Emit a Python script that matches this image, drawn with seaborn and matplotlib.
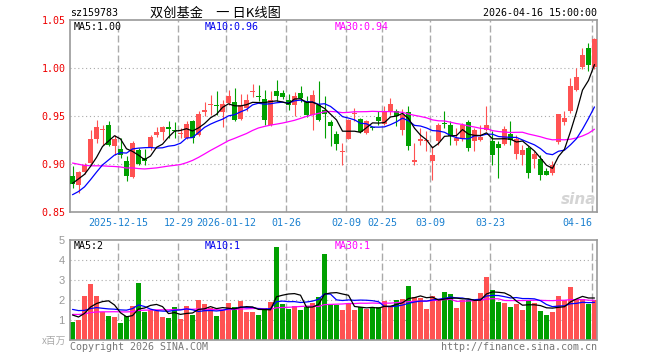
import numpy as np
import pandas as pd
import matplotlib
matplotlib.use("Agg")
import matplotlib.pyplot as plt
import seaborn as sns

# daily candles (88 trading days)
opens = [0.8879, 0.8785, 0.8913, 0.9010, 0.9264, 0.9350, 0.9410, 0.9191, 0.9160, 0.9028,
         0.8868, 0.9149, 0.9060, 0.9167, 0.9305, 0.9333, 0.9389, 0.9358, 0.9315, 0.9270,
         0.9451, 0.9299, 0.9538, 0.9618, 0.9611, 0.9542, 0.9635, 0.9646, 0.9472, 0.9583,
         0.9745, 0.9708, 0.9680, 0.9410, 0.9757, 0.9740, 0.9670, 0.9611, 0.9743, 0.9660,
         0.9507, 0.9618, 0.9566, 0.9434, 0.9316, 0.9122, 0.9264, 0.9518, 0.9472, 0.9323,
         0.9385, 0.9486, 0.9420, 0.9549, 0.9556, 0.9358, 0.9538, 0.9021, 0.9236, 0.9236,
         0.9028, 0.9236, 0.9424, 0.9403, 0.9236, 0.9264, 0.9434, 0.9236, 0.9253, 0.9358,
         0.9236, 0.9212, 0.9212, 0.9313, 0.9104, 0.9090, 0.9167, 0.9056, 0.9056, 0.8924,
         0.8906, 0.9229, 0.9438, 0.9549, 0.9767, 1.0007, 1.0208, 1.0007]
highs = [0.8976, 0.8924, 0.9010, 0.9358, 0.9458, 0.9410, 0.9451, 0.9306, 0.9270, 0.9080,
         0.9243, 0.9167, 0.9160, 0.9306, 0.9385, 0.9400, 0.9444, 0.9437, 0.9375, 0.9444,
         0.9462, 0.9549, 0.9646, 0.9722, 0.9757, 0.9670, 0.9774, 0.9792, 0.9729, 0.9729,
         0.9837, 0.9826, 0.9774, 0.9757, 0.9878, 0.9770, 0.9729, 0.9750, 0.9809, 0.9705,
         0.9774, 0.9861, 0.9705, 0.9460, 0.9340, 0.9219, 0.9472, 0.9583, 0.9480, 0.9460,
         0.9400, 0.9556, 0.9600, 0.9687, 0.9570, 0.9576, 0.9600, 0.9219, 0.9375, 0.9340,
         0.9184, 0.9427, 0.9556, 0.9451, 0.9375, 0.9427, 0.9462, 0.9375, 0.9410, 0.9600,
         0.9340, 0.9236, 0.9400, 0.9444, 0.9306, 0.9194, 0.9184, 0.9132, 0.9097, 0.8958,
         0.9028, 0.9524, 0.9549, 0.9896, 1.0000, 1.0208, 1.0260, 1.0313]
lows = [0.8750, 0.8698, 0.8896, 0.9005, 0.9222, 0.9200, 0.9184, 0.9097, 0.9060, 0.8820,
        0.8854, 0.8993, 0.8990, 0.9150, 0.9278, 0.9250, 0.9270, 0.9270, 0.9270, 0.9264,
        0.9219, 0.9290, 0.9497, 0.9514, 0.9514, 0.9382, 0.9610, 0.9444, 0.9462, 0.9550,
        0.9694, 0.9653, 0.9410, 0.9400, 0.9653, 0.9680, 0.9560, 0.9497, 0.9650, 0.9490,
        0.9358, 0.9444, 0.9270, 0.9184, 0.9150, 0.8993, 0.9257, 0.9444, 0.9323, 0.9310,
        0.9350, 0.9410, 0.9410, 0.9510, 0.9392, 0.9306, 0.9150, 0.8993, 0.9200, 0.9132,
        0.8830, 0.9200, 0.9375, 0.9194, 0.9200, 0.9243, 0.9132, 0.9132, 0.9240, 0.9340,
        0.8993, 0.8854, 0.9200, 0.9200, 0.9056, 0.8993, 0.8854, 0.8958, 0.8830, 0.8882,
        0.8882, 0.9208, 0.9410, 0.9530, 0.9757, 0.9993, 0.9965, 0.9993]
closes = [0.8792, 0.8913, 0.8986, 0.9264, 0.9389, 0.9360, 0.9194, 0.9264, 0.9097, 0.8878,
          0.9222, 0.9000, 0.9030, 0.9285, 0.9330, 0.9389, 0.9365, 0.9340, 0.9325, 0.9420,
          0.9270, 0.9524, 0.9566, 0.9625, 0.9604, 0.9628, 0.9712, 0.9462, 0.9618, 0.9670,
          0.9750, 0.9700, 0.9462, 0.9670, 0.9705, 0.9694, 0.9611, 0.9705, 0.9687, 0.9507,
          0.9715, 0.9462, 0.9521, 0.9392, 0.9208, 0.9125, 0.9462, 0.9521, 0.9333, 0.9451,
          0.9375, 0.9451, 0.9549, 0.9625, 0.9497, 0.9514, 0.9184, 0.9045, 0.9264, 0.9253,
          0.9097, 0.9410, 0.9417, 0.9288, 0.9270, 0.9410, 0.9167, 0.9358, 0.9278, 0.9410,
          0.9097, 0.9167, 0.9365, 0.9253, 0.9264, 0.9149, 0.8906, 0.9104, 0.8889, 0.8889,
          0.8986, 0.9524, 0.9479, 0.9809, 0.9903, 1.0132, 1.0028, 1.0306]
# volume, millions
volumes = [0.92, 1.00, 2.20, 2.80, 2.20, 1.40, 1.20, 1.15, 0.85, 1.20,
           1.70, 2.85, 1.40, 1.50, 1.45, 1.15, 1.10, 1.65, 1.05, 1.70,
           1.25, 2.00, 1.80, 1.60, 1.20, 1.50, 1.85, 1.65, 1.95, 1.40,
           1.40, 1.25, 1.60, 1.90, 4.65, 1.80, 1.55, 1.70, 1.50, 1.65,
           1.85, 2.15, 4.30, 1.80, 1.75, 1.50, 1.83, 1.50, 1.63, 1.57,
           1.63, 1.63, 1.95, 1.67, 2.00, 2.05, 2.70, 2.17, 2.10, 1.55,
           2.20, 1.98, 2.40, 2.30, 1.60, 2.00, 2.00, 2.00, 2.37, 3.15,
           2.50, 1.90, 1.85, 1.65, 1.80, 1.50, 2.00, 1.85, 1.45, 1.25,
           1.42, 2.20, 2.00, 2.65, 2.00, 2.05, 1.80, 2.00]

# days before the window, only needed to start the moving averages
prev_closes = [0.930, 0.934, 0.938, 0.940, 0.936, 0.933, 0.934,
               0.925, 0.920, 0.918, 0.922, 0.915, 0.912, 0.916, 0.910, 0.908, 0.912, 0.907,
               0.885, 0.855, 0.858, 0.850, 0.852, 0.860, 0.861,
               0.868, 0.875, 0.885, 0.892]
prev_volumes = [1.1, 1.2, 1.0, 1.3, 1.1, 1.2, 1.0, 1.1, 1.3, 1.2,
                1.1, 1.0, 1.2, 1.3, 1.1, 1.2, 1.0, 1.2, 1.1, 1.4,
                1.6, 2.1, 1.9, 1.7, 1.75,
                1.5, 1.3, 1.2, 1.33]

tick_days = [8, 18, 26, 36, 46, 52, 60, 70, 87]
tick_labels = ["2025-12-15", "12-29", "2026-01-12", "01-26", "02-09",
               "02-25", "03-09", "03-23", "04-16"]

sns.set_style("white")
plt.rcParams['font.family'] = ['DejaVu Sans Mono', 'Noto Sans CJK SC']

RED = '#ff5252'
GREEN = '#00a000'
GRID = '#aaaaaa'

n = len(closes)
df = pd.DataFrame({'day': np.arange(n), 'open': opens, 'high': highs,
                   'low': lows, 'close': closes, 'vol': volumes})
k = len(prev_closes)
all_close = pd.Series(prev_closes + closes)
all_vol = pd.Series(prev_volumes + volumes)
for w in (5, 10, 30):
    df[f'ma{w}'] = all_close.rolling(w).mean().iloc[k:].to_numpy()
    df[f'vma{w}'] = all_vol.rolling(w).mean().iloc[k:].to_numpy()
df['color'] = np.where(df['close'] >= df['open'], RED, GREEN)

W, H = 660, 360
fig = plt.figure(figsize=(W / 100, H / 100), dpi=100)


def box(l, t, r, b):
    return [l / W, 1 - b / H, (r - l) / W, (b - t) / H]


ax = fig.add_axes(box(70, 20, 597, 212))
axv = fig.add_axes(box(70, 240, 597, 340))

# grids first so the marks sit on top
for a, levels in ((ax, [0.90, 0.95, 1.00]), (axv, [1, 2, 3, 4])):
    for lv in levels:
        a.axhline(lv, color=GRID, lw=0.8, ls=(0, (1, 2.5)), zorder=0)
    for d in tick_days:
        a.axvline(d - 0.35, color=GRID, lw=1.0, ls=(0, (5, 2.2)), zorder=0)

# candles
body_lo = df[['open', 'close']].min(axis=1)
body_h = (df['close'] - df['open']).abs().clip(lower=0.0012)
ax.vlines(df['day'], df['low'], df['high'], colors=df['color'], lw=0.8, zorder=2)
ax.bar(df['day'], body_h, bottom=body_lo, width=0.83, color=df['color'], lw=0, zorder=3)

sns.lineplot(data=df, x='day', y='ma30', color='#ff00ff', lw=0.9, ax=ax, zorder=4)
sns.lineplot(data=df, x='day', y='ma10', color='#0000ff', lw=0.9, ax=ax, zorder=4)
sns.lineplot(data=df, x='day', y='ma5', color='black', lw=0.9, ax=ax, zorder=4)

# volume
axv.bar(df['day'], df['vol'], width=0.83, color=df['color'], lw=0, zorder=2)
sns.lineplot(data=df, x='day', y='vma30', color='#ff00ff', lw=0.9, ax=axv, zorder=4)
sns.lineplot(data=df, x='day', y='vma10', color='#0000ff', lw=0.9, ax=axv, zorder=4)
sns.lineplot(data=df, x='day', y='vma5', color='black', lw=0.9, ax=axv, zorder=4)

for a in (ax, axv):
    a.set_xlim(-0.42, n - 0.58)
    a.set_xlabel('')
    a.set_ylabel('')
    for s in a.spines.values():
        s.set_color('#999999')
        s.set_linewidth(1.2)
    a.tick_params(length=0)

ax.set_ylim(0.85, 1.05)
ax.set_yticks([0.85, 0.90, 0.95, 1.00, 1.05])
ax.set_yticklabels([f'{v:.2f}' for v in [0.85, 0.90, 0.95, 1.00, 1.05]],
                   color='#ee0000', fontsize=7.2)
ax.set_xticks([d - 0.35 for d in tick_days])
ax.set_xticklabels(tick_labels, color='#1a80d0', fontsize=7.2)
ax.get_xticklabels()[-1].set_horizontalalignment('right')
ax.tick_params(axis='y', pad=3)
ax.tick_params(axis='x', pad=4)

axv.set_ylim(0, 5)
axv.set_yticks([1, 2, 3, 4, 5])
axv.set_yticklabels(['1', '2', '3', '4', '5'], color='#999999', fontsize=8,
                    family='Liberation Sans')
axv.tick_params(axis='y', pad=4)
axv.set_xticks([])


def ftext(x, y, s, **kw):
    fig.text(x / W, 1 - y / H, s, va='center', **kw)


last = df.iloc[-1]
ftext(70, 13, 'sz159783', fontsize=7.2, color='black')
ftext(150, 13, '双创基金\u3000一 日K线图', fontsize=9.5, ha='left', color='black',
      family=['Noto Sans CJK SC', 'DejaVu Sans'])
ftext(597, 13, '2026-04-16 15:00:00', fontsize=7.2, ha='right', color='black')
ftext(74, 27, f"MA5:{last['ma5']:.2f}", fontsize=7.2, color='black')
ftext(205, 27, f"MA10:{last['ma10']:.2f}", fontsize=7.2, color='#0000ee')
ftext(335, 27, f"MA30:{last['ma30']:.2f}", fontsize=7.2, color='#ff00ff')
ftext(74, 246, f"MA5:{int(last['vma5'])}", fontsize=7.2, color='black')
ftext(205, 246, f"MA10:{int(last['vma10'])}", fontsize=7.2, color='#0000ee')
ftext(335, 246, f"MA30:{int(last['vma30'])}", fontsize=7.2, color='#ff00ff')
ftext(66, 341, 'x百万', fontsize=7, ha='right', color='#aaaaaa',
      family=['Noto Sans CJK SC', 'DejaVu Sans'])
ftext(70, 347, 'Copyright 2026 SINA.COM', fontsize=7.2, color='#777777')
ftext(597, 347, 'http://finance.sina.com.cn', fontsize=7.2, ha='right', color='#777777')
ftext(579, 199, 'sina', fontsize=11, ha='center', color='#d4d4d4',
      style='italic', weight='bold', family='DejaVu Sans')

fig.savefig('out.png', dpi=100)
